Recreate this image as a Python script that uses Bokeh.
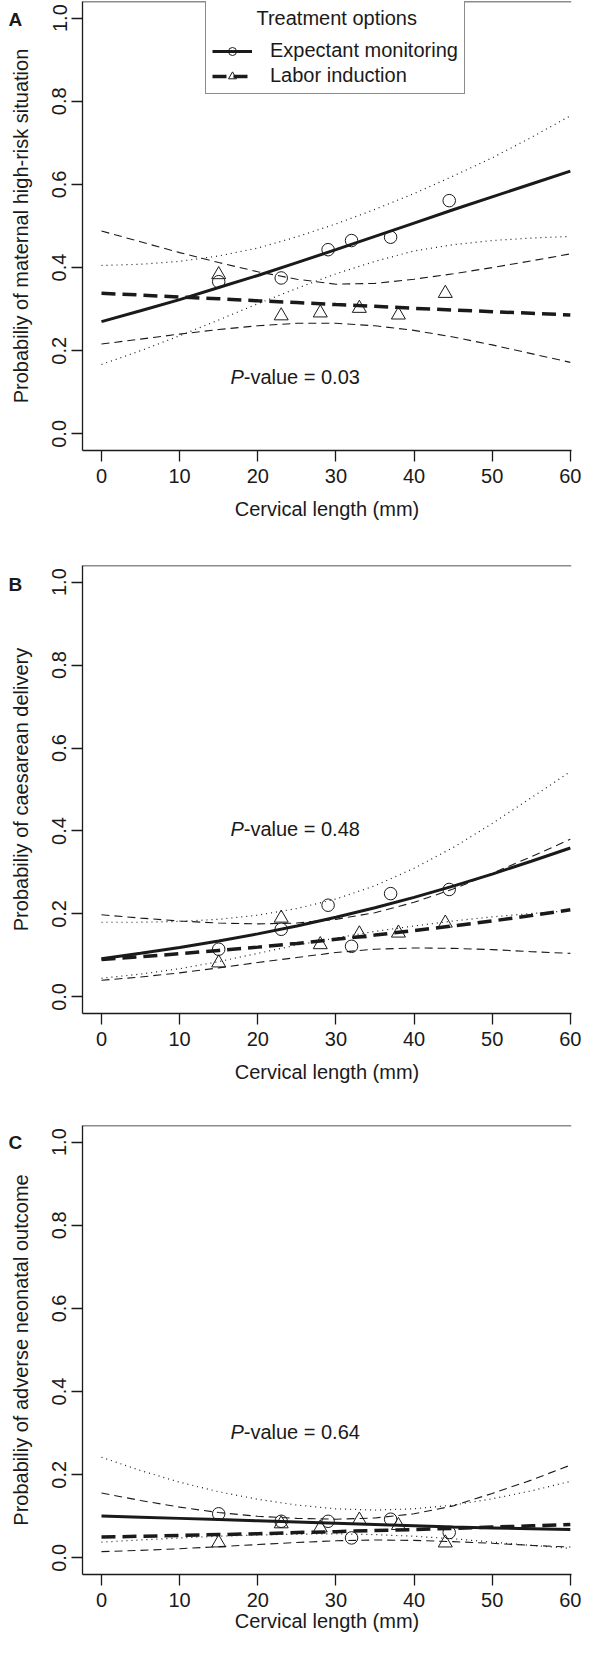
from bokeh.plotting import figure
from bokeh.layouts import column
from bokeh.models import (Range1d, FixedTicker, PrintfTickFormatter, Span, Label,
                          Legend, LegendItem)
from bokeh.core.properties import value
from bokeh.embed import file_html
from bokeh.resources import INLINE

# ---------------- data ----------------
cl = [0, 5, 10, 15, 20, 25, 30, 35, 40, 45, 50, 55, 60]          # cervical length (mm)
x_ticks = [0, 10, 20, 30, 40, 50, 60]
y_ticks = [0.0, 0.2, 0.4, 0.6, 0.8, 1.0]

em_pts_x = [15, 23, 29, 32, 37, 44.5]      # observed, expectant monitoring
li_pts_x = [15, 23, 28, 33, 38, 44]        # observed, labor induction

panel_letters = ["A", "B", "C"]
y_titles = ["Probabiliy of maternal high-risk situation",
            "Probabiliy of caesarean delivery",
            "Probabiliy of adverse neonatal outcome"]
p_values = ["0.03", "0.48", "0.64"]
p_value_y = [0.136, 0.405, 0.303]

# Panel A
a_em_fit = [0.270, 0.296, 0.323, 0.352, 0.381, 0.412, 0.443, 0.475, 0.507, 0.539, 0.570, 0.601, 0.632]
a_em_lo = [0.167, 0.200, 0.236, 0.274, 0.313, 0.350, 0.385, 0.415, 0.440, 0.455, 0.465, 0.471, 0.475]
a_em_hi = [0.405, 0.408, 0.415, 0.428, 0.447, 0.474, 0.505, 0.540, 0.578, 0.620, 0.664, 0.713, 0.765]
a_li_fit = [0.338, 0.334, 0.329, 0.325, 0.320, 0.316, 0.311, 0.307, 0.302, 0.298, 0.294, 0.290, 0.286]
a_li_lo = [0.216, 0.228, 0.240, 0.251, 0.260, 0.266, 0.266, 0.260, 0.249, 0.233, 0.214, 0.193, 0.172]
a_li_hi = [0.488, 0.462, 0.436, 0.412, 0.390, 0.372, 0.360, 0.362, 0.372, 0.385, 0.400, 0.416, 0.433]
a_em_pts = [0.366, 0.375, 0.443, 0.465, 0.473, 0.561]
a_li_pts = [0.383, 0.284, 0.291, 0.302, 0.286, 0.338]

# Panel B
b_em_fit = [0.092, 0.105, 0.119, 0.135, 0.152, 0.171, 0.192, 0.215, 0.240, 0.267, 0.296, 0.327, 0.359]
b_em_lo = [0.045, 0.055, 0.068, 0.085, 0.105, 0.125, 0.142, 0.158, 0.171, 0.183, 0.193, 0.201, 0.208]
b_em_hi = [0.180, 0.180, 0.182, 0.187, 0.197, 0.213, 0.236, 0.268, 0.310, 0.360, 0.418, 0.480, 0.543]
b_li_fit = [0.090, 0.097, 0.104, 0.112, 0.120, 0.129, 0.139, 0.149, 0.160, 0.171, 0.183, 0.196, 0.210]
b_li_lo = [0.040, 0.048, 0.058, 0.070, 0.083, 0.095, 0.107, 0.115, 0.118, 0.117, 0.114, 0.109, 0.105]
b_li_hi = [0.198, 0.190, 0.183, 0.178, 0.176, 0.178, 0.187, 0.203, 0.228, 0.260, 0.298, 0.338, 0.380]
b_em_pts = [0.115, 0.163, 0.221, 0.122, 0.249, 0.259]
b_li_pts = [0.082, 0.190, 0.126, 0.152, 0.154, 0.178]

# Panel C
c_em_fit = [0.101, 0.098, 0.095, 0.092, 0.089, 0.086, 0.083, 0.080, 0.077, 0.074, 0.072, 0.070, 0.068]
c_em_lo = [0.038, 0.043, 0.048, 0.052, 0.055, 0.057, 0.058, 0.056, 0.052, 0.046, 0.038, 0.030, 0.023]
c_em_hi = [0.242, 0.210, 0.182, 0.159, 0.141, 0.127, 0.118, 0.115, 0.118, 0.127, 0.142, 0.161, 0.184]
c_li_fit = [0.050, 0.052, 0.054, 0.056, 0.058, 0.061, 0.063, 0.066, 0.068, 0.071, 0.074, 0.077, 0.080]
c_li_lo = [0.015, 0.018, 0.022, 0.027, 0.032, 0.037, 0.041, 0.043, 0.042, 0.039, 0.035, 0.030, 0.026]
c_li_hi = [0.156, 0.138, 0.122, 0.109, 0.100, 0.095, 0.093, 0.096, 0.106, 0.125, 0.155, 0.187, 0.223]
c_em_pts = [0.106, 0.088, 0.088, 0.048, 0.093, 0.061]
c_li_pts = [0.036, 0.082, 0.072, 0.091, 0.078, 0.036]

legend_title = "Treatment options"
series_names = ["Expectant monitoring", "Labor induction"]
x_title = "Cervical length (mm)"

# ---------------- styling ----------------
FONT = "Liberation Sans"
INK = "#1a1a1a"
FS = "20px"
NBSP = "\u00a0"


def make_panel(i, em_fit, em_lo, em_hi, li_fit, li_lo, li_hi, em_pts, li_pts,
               height, b_top, b_bottom, xlab_standoff, letter_y, legend=False):
    p = figure(width=585, height=height, title=None, output_backend="svg",
               toolbar_location=None,
               x_range=Range1d(-2.43, 60.15), y_range=Range1d(-0.04, 1.04),
               min_border_left=82, min_border_right=0,
               min_border_top=b_top, min_border_bottom=b_bottom)
    p.outline_line_color = None
    p.grid.visible = False
    p.background_fill_color = "white"
    p.border_fill_color = "white"

    for ax in (p.xaxis[0], p.yaxis[0]):
        ax.axis_line_color = INK
        ax.axis_line_width = 1.3
        ax.major_tick_line_color = INK
        ax.major_tick_line_width = 1.3
        ax.major_tick_in = 0
        ax.major_tick_out = 11
        ax.minor_tick_line_color = None
        ax.major_label_text_font = FONT
        ax.major_label_text_font_size = FS
        ax.major_label_text_color = INK
        ax.axis_label_text_font = FONT
        ax.axis_label_text_font_size = FS
        ax.axis_label_text_font_style = "normal"
        ax.axis_label_text_color = INK

    p.xaxis[0].ticker = FixedTicker(ticks=x_ticks)
    p.xaxis[0].major_label_standoff = 7
    p.xaxis[0].axis_label = x_title
    p.xaxis[0].axis_label_standoff = xlab_standoff

    p.yaxis[0].ticker = FixedTicker(ticks=y_ticks)
    p.yaxis[0].formatter = PrintfTickFormatter(format="%.1f")
    p.yaxis[0].major_label_orientation = "vertical"
    p.yaxis[0].major_label_standoff = 5
    p.yaxis[0].axis_label = y_titles[i]
    p.yaxis[0].axis_label_standoff = 18

    # top border of the box
    p.add_layout(Span(location=1.04, dimension="width", line_color=INK, line_width=1.3))

    # confidence bands
    p.line(cl, em_hi, line_color=INK, line_width=1.2, line_dash="1 4")
    p.line(cl, em_lo, line_color=INK, line_width=1.2, line_dash="1 4")
    p.line(cl, li_hi, line_color=INK, line_width=1.1, line_dash="8 5")
    p.line(cl, li_lo, line_color=INK, line_width=1.1, line_dash="8 5")

    # fitted curves
    em_line = p.line(cl, em_fit, line_color=INK, line_width=3)
    li_line = p.line(cl, li_fit, line_color=INK, line_width=3.5, line_dash="14 7")

    # observed points
    em_sc = p.scatter(em_pts_x, em_pts, marker="circle", size=12.5, fill_color=None,
                      line_color=INK, line_width=1)
    li_sc = p.scatter(li_pts_x, li_pts, marker="triangle", size=14, fill_color=None,
                      line_color=INK, line_width=1)

    # P-value annotation
    p.text(x=[16.5], y=[p_value_y[i]], text=["P"], text_font=value(FONT),
           text_font_size=FS, text_font_style="italic", text_color=INK,
           text_baseline="middle", text_align="left")
    p.text(x=[16.5], y=[p_value_y[i]], text=["-value = " + p_values[i]],
           text_font=value(FONT), text_font_size=FS, text_color=INK,
           text_baseline="middle", text_align="left", x_offset=13.3)

    # panel letter: placed in a side panel so it is not clipped to the frame,
    # positioned in canvas coordinates at the top-left of the figure
    p.add_layout(Label(x=8, y=letter_y, x_units="canvas", y_units="canvas",
                       text=panel_letters[i], text_font=FONT, text_font_size="19px",
                       text_font_style="bold", text_color=INK, text_baseline="middle",
                       text_align="left"), "right")

    if legend:
        lg = Legend(items=[LegendItem(label=series_names[0], renderers=[em_line, em_sc]),
                           LegendItem(label=series_names[1], renderers=[li_line, li_sc])],
                    location=(123, 356), title=NBSP * 8 + legend_title,
                    title_text_font=FONT, title_text_font_size=FS,
                    title_text_font_style="normal", title_text_color=INK,
                    title_standoff=9,
                    label_text_font=FONT, label_text_font_size=FS, label_text_color=INK,
                    label_standoff=18, label_height=20,
                    glyph_width=40, glyph_height=20, spacing=2, padding=6, margin=0,
                    border_line_color=INK, border_line_width=1.3,
                    background_fill_color="white", background_fill_alpha=1.0)
        p.add_layout(lg)
    return p


pa = make_panel(0, a_em_fit, a_em_lo, a_em_hi, a_li_fit, a_li_lo, a_li_hi,
                a_em_pts, a_li_pts, height=557, b_top=1, b_bottom=107,
                xlab_standoff=12, letter_y=19, legend=True)
pb = make_panel(1, b_em_fit, b_em_lo, b_em_hi, b_li_fit, b_li_lo, b_li_hi,
                b_em_pts, b_li_pts, height=560, b_top=8, b_bottom=104,
                xlab_standoff=12, letter_y=26.5)
pc = make_panel(2, c_em_fit, c_em_lo, c_em_hi, c_li_fit, c_li_lo, c_li_hi,
                c_em_pts, c_li_pts, height=521, b_top=8, b_bottom=64,
                xlab_standoff=0, letter_y=25)

layout = column(pa, pb, pc, spacing=0)
open("out.html", "w").write(file_html(layout, INLINE))
